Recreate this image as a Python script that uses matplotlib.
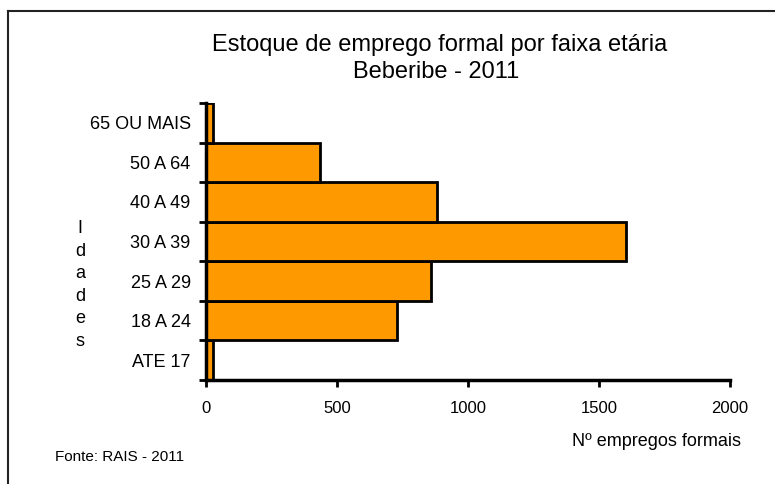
import matplotlib
matplotlib.use("Agg")
import matplotlib.pyplot as plt
from matplotlib.lines import Line2D

plt.rcParams['font.family'] = ['Liberation Sans', 'DejaVu Sans']

# Data
faixas = ["ATE 17", "18 A 24", "25 A 29", "30 A 39", "40 A 49", "50 A 64", "65 OU MAIS"]
empregos = [25, 730, 857, 1602, 880, 435, 25]
x_ticks = [0, 500, 1000, 1500, 2000]

fig = plt.figure(figsize=(7.75, 4.84), dpi=100)
ax = fig.add_axes([206 / 775, 1 - 380 / 484, 524 / 775, 277 / 484])

ax.barh(range(len(faixas)), empregos, height=1.0, color='#FF9900',
        edgecolor='black', linewidth=2)

ax.set_xlim(0, 2000)
ax.set_ylim(-0.5, len(faixas) - 0.5)
ax.set_xticks(x_ticks)
ax.set_xticklabels([str(t) for t in x_ticks], fontsize=12)
ax.set_yticks([i - 0.5 for i in range(len(faixas) + 1)])
ax.set_yticklabels([])
ax.set_yticks(range(len(faixas)), minor=True)
ax.set_yticklabels(faixas, minor=True, fontsize=13)
ax.tick_params(axis='y', which='minor', length=0, pad=11)
ax.tick_params(axis='y', which='major', length=5, width=2)
ax.tick_params(axis='x', length=5, width=2, pad=10)

for s in ['top', 'right']:
    ax.spines[s].set_visible(False)
for s in ['left', 'bottom']:
    ax.spines[s].set_linewidth(2.5)

# titles and labels
fig.text(440 / 775, 1 - 45 / 484, "Estoque de emprego formal por faixa etária",
         ha='center', va='center', fontsize=17)
fig.text(436 / 775, 1 - 72 / 484, "Beberibe - 2011",
         ha='center', va='center', fontsize=17)
fig.text(80 / 775, 1 - 285 / 484, "I\nd\na\nd\ne\ns", ha='center', va='center',
         fontsize=13, linespacing=1.42)
fig.text(657 / 775, 1 - 441 / 484, "Nº empregos formais", ha='center', va='center',
         fontsize=13)
fig.text(55 / 775, 1 - 457 / 484, "Fonte: RAIS - 2011", ha='left', va='center',
         fontsize=11)

# outer frame (left and top edges visible in the reference)
fig.add_artist(Line2D([8 / 775, 8 / 775], [0, 1 - 11 / 484], color='#222222', lw=1.5))
fig.add_artist(Line2D([8 / 775, 1], [1 - 11 / 484, 1 - 11 / 484], color='#222222', lw=1.5))

fig.savefig("out.png", dpi=100)
